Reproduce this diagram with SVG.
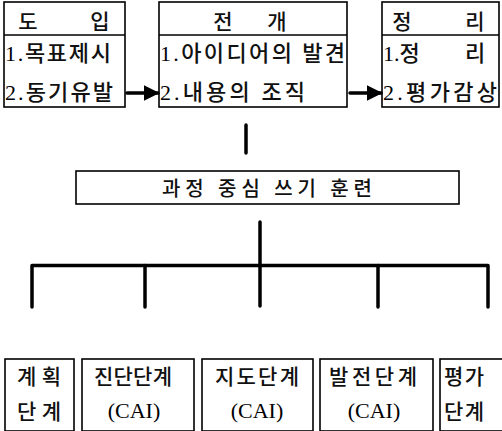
<svg xmlns="http://www.w3.org/2000/svg" width="502" height="431" viewBox="0 0 502 431">
<style>
.box{fill:#fff;stroke:#000;stroke-width:1.6}
.div{stroke:#000;stroke-width:1.6}
.t{font-family:"Liberation Serif","Noto Sans CJK KR",serif;font-size:22px;font-weight:500;fill:#111}
.h{font-family:"Noto Sans CJK KR",sans-serif;font-size:21px;font-weight:500;fill:#111;text-anchor:middle}
.c{font-family:"Liberation Serif","Noto Sans CJK KR",serif;font-size:21px;font-weight:500;fill:#111;text-anchor:middle}
.s{font-family:"Liberation Serif",serif;font-size:22px;fill:#000;text-anchor:middle}
.n{font-family:"Liberation Serif",serif;font-weight:normal;fill:#000}
.ln{stroke:#000;stroke-width:3.5;fill:none;stroke-linecap:round;stroke-linejoin:round}
</style>
<defs>
<marker id="ah" viewBox="0 0 10 10" refX="9" refY="5" markerWidth="4.5" markerHeight="4.5" markerUnits="strokeWidth" orient="auto">
<path d="M0,0 L10,5 L0,10 z" fill="#000"/>
</marker>
</defs>
<rect width="502" height="431" fill="#fff"/>
<g id="n-intro">
<rect class="box" x="4" y="2" width="121" height="105"/>
<line class="div" x1="4" y1="35" x2="125" y2="35"/>
<text class="h" x="28" y="29">도</text>
<text class="h" x="100" y="29">입</text>
<text class="t" x="5" y="61" textLength="106" lengthAdjust="spacing"><tspan class="n">1.</tspan>목표제시</text>
<text class="t" x="5" y="100" textLength="108" lengthAdjust="spacing"><tspan class="n">2.</tspan>동기유발</text>
</g>
<g id="n-develop">
<rect class="box" x="159" y="2" width="188" height="105"/>
<line class="div" x1="159" y1="35" x2="347" y2="35"/>
<text class="h" x="223" y="29">전</text>
<text class="h" x="277" y="29">개</text>
<text class="t" x="160" y="61" textLength="185" lengthAdjust="spacing"><tspan class="n">1.</tspan>아이디어의 발견</text>
<text class="t" x="160" y="100" textLength="145" lengthAdjust="spacing"><tspan class="n">2.</tspan>내용의 조직</text>
</g>
<g id="n-summary">
<rect class="box" x="382" y="2" width="117" height="105"/>
<line class="div" x1="382" y1="35" x2="499" y2="35"/>
<text class="h" x="402" y="29">정</text>
<text class="h" x="475" y="29">리</text>
<text class="t" x="383" y="61"><tspan class="n">1.</tspan>정</text>
<text class="h" x="475" y="61" style="font-size:22px">리</text>
<text class="t" x="383" y="100" textLength="114" lengthAdjust="spacing"><tspan class="n">2.</tspan>평가감상</text>
</g>
<g id="n-center">
<rect class="box" x="76" y="171" width="383" height="33"/>
<text class="h" x="267" y="196" style="font-size:20px" textLength="210" lengthAdjust="spacing">과정 중심 쓰기 훈련</text>
</g>
<g id="n-plan">
<rect class="box" x="5" y="359" width="69" height="72"/>
<text class="c" x="39" y="384" textLength="44" lengthAdjust="spacing">계획</text>
<text class="c" x="39" y="419" textLength="44" lengthAdjust="spacing">단계</text>
</g>
<g id="n-diag">
<rect class="box" x="82" y="359" width="112" height="72"/>
<text class="c" x="133" y="384" textLength="78" lengthAdjust="spacing">진단단계</text>
<text class="s" x="134" y="418">(CAI)</text>
</g>
<g id="n-guide">
<rect class="box" x="202" y="359" width="111" height="72"/>
<text class="c" x="257" y="384" textLength="84" lengthAdjust="spacing">지도단계</text>
<text class="s" x="257" y="418">(CAI)</text>
</g>
<g id="n-grow">
<rect class="box" x="320" y="359" width="113" height="72"/>
<text class="c" x="373" y="384" textLength="88" lengthAdjust="spacing">발전단계</text>
<text class="s" x="374" y="418">(CAI)</text>
</g>
<g id="n-eval">
<rect class="box" x="440" y="359" width="70" height="72"/>
<text class="t" x="444" y="384" style="font-size:21px" textLength="40" lengthAdjust="spacing">평가</text>
<text class="t" x="444" y="419" style="font-size:21px" textLength="40" lengthAdjust="spacing">단계</text>
</g>
<g id="connectors">
<line class="ln" x1="127" y1="93" x2="158" y2="93" stroke-width="3" marker-end="url(#ah)"/>
<line class="ln" x1="350" y1="93" x2="381" y2="93" stroke-width="3" marker-end="url(#ah)"/>
<line class="ln" x1="246" y1="125" x2="246" y2="153"/>
<line class="ln" x1="260" y1="222" x2="260" y2="265"/>
<path class="ln" d="M32,307 V265.5 H488 V307"/>
<line class="ln" x1="145" y1="265.5" x2="145" y2="307"/>
<line class="ln" x1="260" y1="265.5" x2="260" y2="306"/>
<line class="ln" x1="378" y1="265.5" x2="378" y2="307"/>
</g>
</svg>
